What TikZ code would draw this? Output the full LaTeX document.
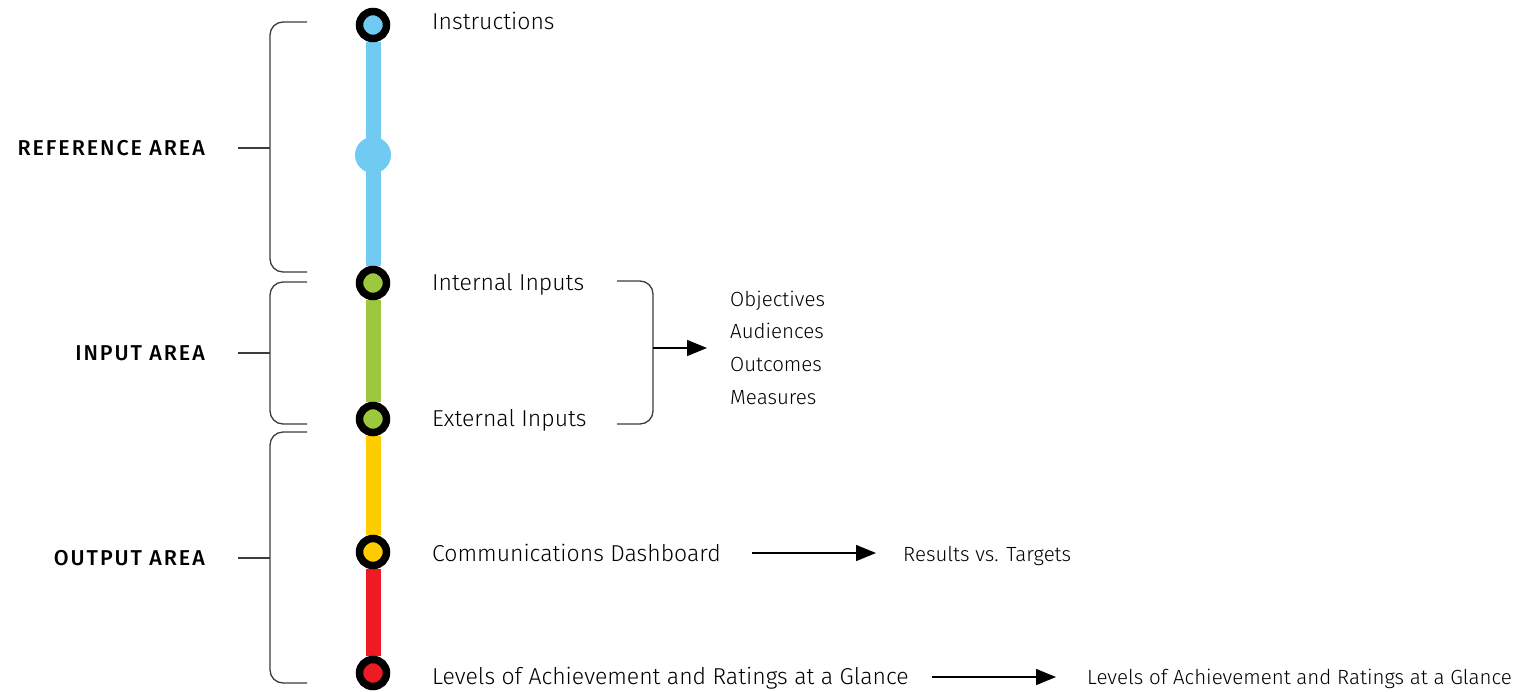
\documentclass[tikz,border=0pt]{standalone}
\usepackage{fontspec}
\setmainfont{Fira Sans}[UprightFont=* Light, BoldFont=* Medium]
\newfontfamily\areafont{Fira Sans Medium}[LetterSpace=9]
\usepackage{tikz}
\usetikzlibrary{arrows.meta,positioning,backgrounds}

\definecolor{refblue}{RGB}{112,202,242}
\definecolor{ingreen}{RGB}{155,200,60}
\definecolor{outyellow}{RGB}{255,204,0}
\definecolor{outred}{RGB}{237,28,36}
\definecolor{bracegray}{RGB}{60,60,60}

\begin{document}
\begin{tikzpicture}[x=1pt,y=-1pt,node distance=59pt,on grid]
       \tikzstyle{station}=[circle, draw=black, line width=7.5pt, minimum size=27pt, inner sep=0pt]
       \tikzstyle{track}=[line width=15pt]
       \tikzstyle{lbl}=[anchor=west, font=\fontsize{23}{26}\selectfont, inner sep=0pt, text height=1.5ex, text depth=.3ex, yshift=-5pt]
       \tikzstyle{area}=[anchor=east, font=\fontsize{21.5}{24}\areafont, inner sep=0pt]
       \tikzstyle{small}=[anchor=west, font=\fontsize{20.5}{23}\selectfont, inner sep=0pt, text height=1.5ex, text depth=.3ex, yshift=-4pt]
       \tikzstyle{brace}=[draw=bracegray, line width=1.3pt, rounded corners=13pt]
       \tikzstyle{tip}=[-{Triangle[length=20pt,width=16pt]}, line width=1.4pt]

       \useasboundingbox (0,0) rectangle (1531,691);

       % stations down the line
       \node[station, fill=refblue] (s_1) at (373,25) {};
       \node[circle, fill=refblue, minimum size=36pt, inner sep=0pt] (s_2) at (373,155) {};
       \node[station, fill=ingreen] (s_3) at (373,283) {};
       \node[station, fill=ingreen] (s_4) at (373,419) {};
       \node[station, fill=outyellow] (s_5) at (373,552) {};
       \node[station, fill=outred] (s_6) at (373,673) {};

       \begin{scope}[on background layer]
         \draw[track, refblue] (s_1) -- (s_3);
         \draw[track, ingreen] (s_3) -- (s_4);
         \draw[track, outyellow] (s_4) -- (s_5);
         \draw[track, outred] (s_5) -- (s_6);
       \end{scope}

       % texts beside the stations
       \node[lbl] (t_1) at (432,21) {Instructions};
       \node[lbl] (t_3) at (432,282) {Internal Inputs};
       \node[lbl] (t_4) at (432,418) {External Inputs};
       \node[lbl] (t_5) at (432,553) {Communications Dashboard};
       \node[lbl] (t_6) at (432,676) {Levels of Achievement and Ratings at a Glance};

       % areas on the left
       \node[area] (a_ref) at (205,148) {REFERENCE AREA};
       \node[area] (a_in) at (205,353) {INPUT AREA};
       \node[area] (a_out) at (205,558) {OUTPUT AREA};

       \coordinate (b_ref) at (270,148);
       \coordinate (b_in) at (270,353);
       \coordinate (b_out) at (270,558);
       \draw[brace] (307,22) -- (270,22) -- (270,272) -- (307,272);
       \draw[brace] (307,282) -- (270,282) -- (270,424) -- (307,424);
       \draw[brace] (307,432) -- (270,432) -- (270,683) -- (307,683);
       \draw[draw=bracegray, line width=1.3pt] (238,148) -- (b_ref);
       \draw[draw=bracegray, line width=1.3pt] (238,353) -- (b_in);
       \draw[draw=bracegray, line width=1.3pt] (238,558) -- (b_out);

       % inputs gathered to the right
       \draw[brace] (617,281) -- (653,281) -- (653,424) -- (617,424);
       \coordinate (b_inputs) at (653,348);
       \node[small] (l_1) at (730,299) {Objectives};
       \node[small] (l_2) at (730,331.7) {Audiences};
       \node[small] (l_3) at (730,364.4) {Outcomes};
       \node[small] (l_4) at (730,397) {Measures};
       \coordinate (e_inputs) at (707,348);
       \draw[tip] (b_inputs) -- (e_inputs);

       % outputs
       \node[small] (r_5) at (903,554) {Results vs. Targets};
       \node[small] (r_6) at (1087,677) {Levels of Achievement and Ratings at a Glance};
       \coordinate (o_5) at (752,553);
       \coordinate (o_6) at (932,677);
       \draw[tip] (o_5) -- ([xshift=-27pt]o_5 -| r_5.west);
       \draw[tip] (o_6) -- ([xshift=-31pt]o_6 -| r_6.west);
     \end{tikzpicture}
\end{document}
